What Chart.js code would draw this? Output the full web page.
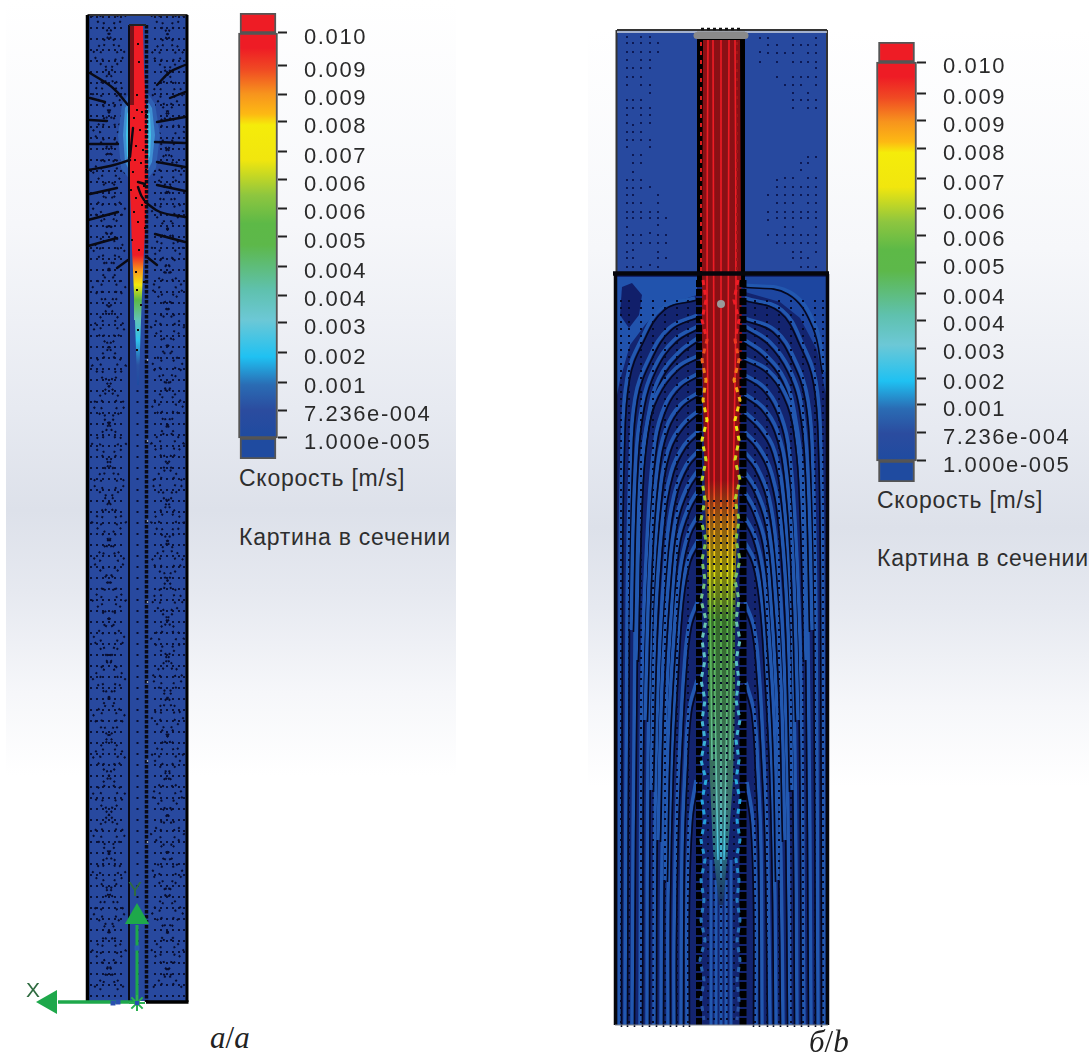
<!DOCTYPE html>
<html>
<head>
<meta charset="utf-8">
<script src="https://cdn.jsdelivr.net/npm/chart.js@4/dist/chart.umd.min.js"></script>
<style>
  html, body { margin: 0; padding: 0; background: #fff; }
  body { width: 1089px; height: 1057px; position: relative; overflow: hidden; font-family: "Liberation Sans", sans-serif; }
  canvas, .bg, .txt { position: absolute; }
  .bg { background: linear-gradient(#fff 0%, #f6f7fa 22%, #e7eaf1 40%, #dde1ea 50%, #e6e9f0 58%, #f6f7fa 68%, #fff 76%, #fff 100%); }
  .txt { white-space: nowrap; color: #2e2e2e; line-height: 1; }
  .legend { font-size: 23px; letter-spacing: 0.75px; }
  .cap { font-family: "Liberation Serif", serif; font-style: italic; font-size: 31px; color: #222; }
  .ax { color: #2f6b40; font-size: 21px; }
</style>
</head>
<body>
<div class="bg" style="left:6px;top:0;width:450px;height:1020px"></div>
<div class="bg" style="left:588px;top:30px;width:501px;height:995px"></div>

<canvas id="fieldA" width="180" height="1020" style="left:20px;top:0"></canvas>
<canvas id="fieldB" width="225" height="1010" style="left:610px;top:20px"></canvas>
<canvas id="barA" width="240" height="446" style="left:238px;top:13px"></canvas>
<canvas id="barB" width="212" height="440" style="left:876px;top:42px"></canvas>

<div class="txt legend" style="left:239px;top:467px">Скорость [m/s]</div>
<div class="txt legend" style="left:239px;top:526px">Картина в сечении</div>
<div class="txt legend" style="left:877px;top:489px">Скорость [m/s]</div>
<div class="txt legend" style="left:877px;top:547px">Картина в сечении</div>
<div class="txt ax" style="left:26px;top:979px">X</div>
<div class="txt ax" style="left:128px;top:878px">Y</div>
<div class="txt cap" style="left:210px;top:1022px">a<span style="font-style:normal">/</span>a</div>
<div class="txt cap" style="left:809px;top:1026px">б<span style="font-style:normal">/</span>b</div>

<script>
// colour bar: tick labels and the speeds they sit at
const barLabels = ['0.010','0.009','0.009','0.008','0.007','0.006','0.006','0.005','0.004','0.004','0.003','0.002','0.001','7.236e-004','1.000e-005'];
const barTicksA = [0.01,0.009186,0.008495,0.007805,0.007065,0.006374,0.005683,0.004968,0.004228,0.003537,0.002847,0.002107,0.001391,0.0007,0.00001];
const barTicksB = [0.01,0.009224,0.008523,0.007822,0.007071,0.006344,0.005668,0.004969,0.004216,0.00354,0.002839,0.002088,0.001412,0.000711,0.00001];
const stopSpeeds = [0.01,0.00963,0.0091,0.0085,0.008,0.00773,0.00687,0.006,0.0053,0.00477,0.00366,0.00292,0.00201,0.00132,0.0007,0.00001];
const stopColors = ['#ee1c25','#ee1c25','#f04a23','#f7941d','#fdb913','#f5ec0a','#f1e60e','#8ec63f','#5db947','#5db84a','#5fc1ae','#6cc8d6','#1fc1f2','#2a6cb4','#2b4c9f','#1f4ba0'];

const jetA = [134,26,143,26,144,70,146,105,148,150,148,190,146,215,144,250,143,270,142,295,141,320,140,350,139,385,137,385,136,350,135,320,134,295,133,270,132,250,131,215,130,190,130,150,130,105,131,70];
const jetAY = [26,255,270,285,300,320,340,365,385];
const jetASpeed = [0.01,0.01,0.0085,0.0073,0.0053,0.0035,0.0022,0.0008,0.00001];
const glowLeftA = [130,92,122,104,118,135,121,168,130,180];
const glowRightA = [147,92,155,104,160,135,156,168,147,180];
const haloLeftA = [130,100,125,108,123,135,125,162,130,172];
const haloRightA = [147,100,152,108,155,135,152,162,147,172];
const coreLeftA = [130,108,127,114,126,135,127,156,130,162];
const coreRightA = [147,108,150,114,151,135,150,156,147,162];
const streamsA = [
  [90,73,113,88,128,105],[90,98,105,102],[90,120,107,121],[90,144,118,144],[88,170,110,166,130,160],
  [90,194,117,188],[88,220,118,212],[88,246,117,238],[117,268,128,260],
  [185,65,170,72,157,85],[185,92,170,98],[185,117,157,122],[185,143,155,142],[185,167,157,162],
  [185,191,157,185],[185,217,160,212,145,202],[185,242,155,234],[157,265,147,257],
  [133,128,130,157],[138,187,141,195,144,200],[138,182,145,184]
];
const latticeYA = [15,54,93,132,171,210,249,288,327,366,405,444,483,522,561,600,639,678,717,756,795,834,873,912,951,990];
const latLeft1 = [92,126,92,126,92,126,92,126,92,126,92,126,92,126,92,126,92,126,92,126,92,126,92,126,92,126];
const latLeft2 = [126,92,126,92,126,92,126,92,126,92,126,92,126,92,126,92,126,92,126,92,126,92,126,92,126,92];
const latLeft3 = [100,118,100,118,100,118,100,118,100,118,100,118,100,118,100,118,100,118,100,118,100,118,100,118,100,118];
const latLeft4 = [118,100,118,100,118,100,118,100,118,100,118,100,118,100,118,100,118,100,118,100,118,100,118,100,118,100];
const latRight1 = [151,184,151,184,151,184,151,184,151,184,151,184,151,184,151,184,151,184,151,184,151,184,151,184,151,184];
const latRight2 = [184,151,184,151,184,151,184,151,184,151,184,151,184,151,184,151,184,151,184,151,184,151,184,151,184,151];
const latRight3 = [159,176,159,176,159,176,159,176,159,176,159,176,159,176,159,176,159,176,159,176,159,176,159,176,159,176];
const latRight4 = [176,159,176,159,176,159,176,159,176,159,176,159,176,159,176,159,176,159,176,159,176,159,176,159,176,159];
const sideColsA = [91,97,103,109,115,121,155,161,167,173,179,184];
const channelDotsAY = [390,405,422,438,455,470,488,503,520,536,553,570,586,603,620,636,652,668,685,702,718,735,752,768,785,802,818,835,852,868,885,902,918,935,952,968,985];
const jetDotsA = [138,44,139,62,137,95,137,110,142,112,134,118,146,115,140,130,136,146,143,150,135,160,141,163,146,170,133,172,138,182,144,186,131,190,136,198,142,205,134,212,138,222,145,228,132,240,139,250,146,256,136,272,144,282,137,290,141,305,138,330,137,350];
const whiteDotsAY = [360,441,521,602,682,761,842,923,1002];
const axisXArrow = [137,1002,58,1002];
const axisYArrow = [137,1002,137,925];

// panel b
const upperColsLeftX = [627,633,641,650,658,666];
const upperColsLeftY = [
  [37,43,52,60,68,77,85,100,108,115,123,132,140,147,180,188,195,203,212,218,227,235,243,252,258,267],
  [43,52,68,77,100,108,125,132,140,155,163,172,180,188,195,203,212,218,235,243,250,258,267],
  [37,43,52,60,68,77,85,100,108,115,123,132,140,155,163,180,188,203,212,218,235,243,267],
  [37,43,52,60,68,85,93,108,115,123,140,147,187,212,218,233,243,265],
  [43,52,195,203,212,218,225,235,243,252,258,267],
  [218,235,243,258]
];
const upperColsRightX = [760,768,777,785,793,801,808,816];
const upperColsRightY = [
  [38,52,62],
  [38,45,53,195,212,220,235],
  [45,53,62,77,180,187,195,203,212,218,235,243],
  [53,85,178,187,195,203,212,218,227,235,243],
  [38,45,53,62,77,85,93,100,108,178,187,195,203,212,218,227,235,243,252,258],
  [45,62,77,85,100,163,170,187,195,212,218,235,243,252,258,267],
  [45,53,62,77,93,100,108,157,163,178,187,195,203,212,218,235,243,258,267],
  [38,45,53,62,68,77,85,100,108,157,178,187,195,203,212,218,227,235,243,252,267]
];
const shearBlueB = [616,277,697,277,697,295,662,306,645,325,630,345,620,380,616,400];
const shearRightB = [745,277,827,277,827,400,817,350,800,318,780,302,745,292];
const vortexB = [622,287,632,283,642,295,639,315,629,328,620,315];
const streamsLeftB = [
  [695,298,662,308,640,342,627,378,622,450,620,600,619,1025],
  [697,315,669,328,649,358,635,398,630,470,627,620,625,1025],
  [699,337,679,352,659,378,649,412,640,480,635,640,632,1025],
  [699,373,679,385,665,405,655,440,648,520,642,680,640,1025],
  [699,410,682,425,668,450,659,500,652,600,648,760,647,1025],
  [699,450,686,465,674,495,666,550,659,660,655,820,654,1025],
  [698,490,688,508,678,540,672,600,666,710,662,860,661,1025],
  [698,540,688,560,681,600,676,670,671,770,668,900,668,1025],
  [698,600,689,625,684,670,680,740,676,830,674,940,674,1025],
  [697,680,689,710,685,770,682,850,681,1025],
  [696,780,690,820,687,900,687,1025]
];
const streamsRightB = [
  [745,298,782,310,803,345,816,382,821,450,823,600,824,1025],
  [745,318,775,330,795,360,808,400,813,470,816,620,818,1025],
  [745,340,765,354,785,380,795,415,803,480,808,640,811,1025],
  [745,375,764,387,778,408,788,442,795,520,801,680,804,1025],
  [745,412,761,427,775,452,784,502,791,600,795,760,797,1025],
  [745,452,757,467,769,497,777,552,784,660,788,820,790,1025],
  [745,492,755,510,765,542,771,602,777,710,781,860,783,1025],
  [745,542,755,562,762,602,767,672,772,770,775,900,776,1025],
  [745,602,754,627,759,672,763,742,767,830,769,940,770,1025],
  [746,682,754,712,758,772,761,850,762,1025],
  [747,782,753,822,756,900,756,1025]
];
const upperStreamsB = [
  [698,326,674,340,654,368,642,405,635,475,631,630],
  [699,355,676,368,656,395,646,430,640,500,636,660],
  [699,392,680,405,666,428,657,470,650,560,645,720],
  [699,430,684,445,671,472,662,525,655,630,651,790],
  [698,470,687,487,676,518,669,575,662,685,658,840],
  [698,515,688,534,680,570,674,635,668,740,665,880],
  [745,326,770,342,790,370,802,408,808,475,812,630],
  [745,358,768,370,786,395,796,430,802,500,806,660],
  [745,394,763,407,777,430,786,470,793,560,798,720],
  [745,432,759,447,772,474,781,525,788,630,792,790],
  [745,472,756,489,767,520,774,575,781,685,785,840],
  [745,517,755,536,763,570,769,635,775,740,778,880],
  [745,285,790,292,815,325,825,372]
];
const coreLinesB = [[711,860,711,1025],[716,880,716,1025],[721,900,721,1025],[726,880,726,1025],[731,860,731,1025]];
const dashedColsB = [621,629,641,653,665,677,688,708,714,721,727,734,755,767,779,791,803,815,823];
const jetB = [703,40,740,40,741,273,742,340,741,400,738,500,736,560,735,640,735,700,733,780,728,850,723,905,719,905,713,850,710,780,708,700,708,640,707,560,705,500,703,400,702,340,702,273];
const jetBY = [40,480,520,570,620,700,800,850,905];
const jetBSpeed = [0.01,0.01,0.0085,0.0068,0.0052,0.0043,0.0034,0.0025,0.0008];
const jetLinesB = [
  [721,40,721,500,721,880],
  [713,40,714,400,715,700,718,860],
  [708,40,707,300,709,500,712,760],
  [729,40,728,400,727,700,724,860],
  [735,40,736,300,733,500,730,760]
];
const wallY = [40,330,420,540,640,800,1025];
const wallSpeed = [0.01,0.01,0.0075,0.0058,0.0033,0.0018,0.0005];
const spikeY = [280,300,320,340,360,380,400,420,440,460,480,500,520,540,560,580,600,620,640,660,680,700,720,740,760,780,800,820,840,860,880,900,920,940,960,980,1000,1020];
const spikeLeftX = [703,706,702,707,702,706,703,707,702,706,702,705,701,706,702,705,701,706,702,705,701,705,702,705,701,706,702,705,701,705,701,704,701,705,700,704,701,704];
const spikeRightX = [738,734,739,735,739,734,740,735,739,735,740,735,739,736,740,735,739,736,740,736,739,736,740,736,739,736,740,737,740,736,739,737,740,737,740,737,739,737];

const xy = a => { const r = []; for (let i = 0; i < a.length; i += 2) r.push({x: a[i], y: a[i + 1]}); return r; };
const colY = (x, ys) => ys.map(y => ({x, y}));
const zip = (xs, ys) => xs.map((x, i) => ({x, y: ys[i]}));
const hex = c => [1, 3, 5].map(i => parseInt(c.substr(i, 2), 16));

// speed -> colour through the colour bar stops
function speedColor(v, shade = 1) {
  let i = stopSpeeds.findIndex(s => s <= v);
  if (i <= 0) i = v >= stopSpeeds[0] ? 1 : stopSpeeds.length - 1;
  const t = (stopSpeeds[i - 1] - v) / (stopSpeeds[i - 1] - stopSpeeds[i]);
  const a = hex(stopColors[i - 1]), b = hex(stopColors[i]);
  const c = a.map((p, k) => Math.round((p + (b[k] - p) * Math.min(1, Math.max(0, t))) * shade));
  return `rgb(${c[0]},${c[1]},${c[2]})`;
}
function speedGradient(chart, ys, speeds, shade) {
  const s = chart.scales.y;
  const top = s ? s.getPixelForValue(ys[0]) : NaN, bot = s ? s.getPixelForValue(ys[ys.length - 1]) : NaN;
  // options get resolved once before the layout has run
  if (!isFinite(top) || !isFinite(bot)) return speedColor(speeds[0], shade);
  const g = chart.ctx.createLinearGradient(0, top, 0, bot);
  ys.forEach((y, i) => g.addColorStop((s.getPixelForValue(y) - top) / (bot - top), speedColor(speeds[i], shade)));
  return g;
}
function barGradient(chart) {
  const s = chart.scales.y;
  const top = s ? s.getPixelForValue(0.01) : NaN, bot = s ? s.getPixelForValue(0.00001) : NaN;
  if (!isFinite(top) || !isFinite(bot)) return stopColors[0];
  const g = chart.ctx.createLinearGradient(0, top, 0, bot);
  stopSpeeds.forEach((v, i) => g.addColorStop((0.01 - v) / (0.01 - 0.00001), stopColors[i]));
  return g;
}

const line = (data, color, width, extra) => Object.assign({data, showLine: true, pointRadius: 0, borderColor: color, borderWidth: width, fill: false}, extra);
const poly = (data, color) => ({data, showLine: true, pointRadius: 0, borderWidth: 0, borderColor: 'rgba(0,0,0,0)', backgroundColor: color, fill: 'shape'});
const dots = (data, color, r) => ({data, pointStyle: 'rect', pointRadius: r, pointBackgroundColor: color, pointBorderWidth: 0, showLine: false});
const lattice = (xs, ys, color = '#080d2e') => line(zip(xs, ys), color, 2, {borderDash: [2, 6]});

function fieldChart(id, xmin, xmax, ymin, ymax, sets) {
  sets.forEach((d, i) => { d.order = sets.length - i; });
  return new Chart(document.getElementById(id), {
    type: 'scatter',
    data: {datasets: sets},
    options: {
      responsive: false, animation: false, events: [],
      layout: {padding: 0, autoPadding: false},
      plugins: {legend: {display: false}, tooltip: {enabled: false}},
      scales: {
        x: {display: false, type: 'linear', min: xmin, max: xmax},
        y: {display: false, type: 'linear', min: ymin, max: ymax, reverse: true}
      }
    }
  });
}

function colorBar(id, ticks, vmin, vmax, mainW, blockW, axisW) {
  return new Chart(document.getElementById(id), {
    type: 'bar',
    data: {
      labels: ['v'],
      datasets: [
        {data: [[0.00001, 0.01]], order: 1, grouped: false, barThickness: mainW, borderWidth: 2, borderColor: '#555', borderSkipped: false,
         backgroundColor: c => barGradient(c.chart)},
        {data: [[0.01, vmax]], order: 2, grouped: false, barThickness: blockW, borderWidth: 2, borderColor: '#555', borderSkipped: false, backgroundColor: '#ee1c25'},
        {data: [[vmin, 0.00001]], order: 2, grouped: false, barThickness: blockW, borderWidth: 2, borderColor: '#555', borderSkipped: false, backgroundColor: '#1f4ba0'}
      ]
    },
    options: {
      responsive: false, animation: false, events: [],
      layout: {padding: 0, autoPadding: false},
      plugins: {legend: {display: false}, tooltip: {enabled: false}},
      scales: {
        x: {display: false},
        y: {
          position: 'right', min: vmin, max: vmax,
          afterFit: s => { s.width = axisW; s.paddingTop = 0; s.paddingBottom = 0; },
          afterBuildTicks: s => { s.ticks = ticks.map(value => ({value})); },
          border: {display: false},
          grid: {drawOnChartArea: false, tickLength: 9, tickColor: '#222', tickWidth: 2},
          ticks: {
            autoSkip: false, padding: 17, labelOffset: 5, color: '#2a2a2a',
            font: {family: '"Liberation Sans"', size: 22},
            callback: (v, i) => barLabels[i]
          }
        }
      }
    },
    plugins: [{id: 'spacing', beforeDraw: c => { c.ctx.letterSpacing = '1.6px'; }}]
  });
}

const blueA = '#28499f';
const panelA = [
  poly(xy([88,16,187,16,187,1001,88,1001]), blueA),
  lattice(latLeft1, latticeYA), lattice(latLeft2, latticeYA), lattice(latLeft3, latticeYA), lattice(latLeft4, latticeYA),
  lattice(latRight1, latticeYA), lattice(latRight2, latticeYA), lattice(latRight3, latticeYA), lattice(latRight4, latticeYA)
];
sideColsA.forEach(x => panelA.push(line(colY(x, [16, 1001]), '#080d2e', 1.8, {borderDash: [2, 9]})));
panelA.push(
  poly(xy(glowLeftA), '#2f5fb2'), poly(xy(glowRightA), '#2f5fb2'),
  poly(xy(haloLeftA), '#3f8fd2'), poly(xy(haloRightA), '#3f8fd2'),
  poly(xy(coreLeftA), '#45c3e6'), poly(xy(coreRightA), '#45c3e6'),
  poly(xy(jetA), c => speedGradient(c.chart, jetAY, jetASpeed)),
  poly(xy([130,26,134,26,134,105,130,105]), '#7a1218')
);
streamsA.forEach(s => panelA.push(line(xy(s), '#0a0a14', 2.4, {tension: 0.4, borderCapStyle: 'round'})));
panelA.push(
  dots(xy(jetDotsA), '#150808', 1.4),
  line(colY(137.5, channelDotsAY), '#080d2e', 2, {borderDash: [2, 9]}),
  line(colY(129, [25, 1002]), '#0a0a14', 2),
  line(colY(146.5, [25, 1002]), '#0a0a14', 3.5, {borderDash: [3.5, 1.5]}),
  line(xy([129,25,146,25]), '#222', 2),
  dots(colY(147.5, whiteDotsAY), '#d9dde6', 1),
  line(xy([87.5,15,187.5,15]), '#333', 2),
  line(xy([87.5,15,87.5,1002]), '#000', 3.5),
  line(xy([187,15,187,1002]), '#000', 3),
  line(xy([146,1002,188.5,1002]), '#000', 3.5),
  line(xy(axisXArrow), '#1ea84b', 3.5),
  line(xy(axisYArrow), '#1ea84b', 3),
  dots(xy([137,948]), '#2a5db0', 3.5),
  dots(xy([113,1003,118,1002]), '#2a4fb0', 3.5),
  {data: xy([50,1002]), pointStyle: 'triangle', rotation: -90, pointRadius: 14, pointBackgroundColor: '#1ea84b', pointBorderWidth: 0},
  {data: xy([137,917]), pointStyle: 'triangle', rotation: 0, pointRadius: 14, pointBackgroundColor: '#1ea84b', pointBorderWidth: 0},
  {data: xy([137,1003]), pointStyle: 'star', pointRadius: 8, pointBorderColor: '#2bb04f', pointBorderWidth: 2},
  dots(xy([137,1003]), '#2a4fb0', 3)
);

const panelB = [
  poly(xy([617,30,827,30,827,274,617,274]), '#27499f')
];
upperColsLeftX.forEach((x, i) => panelB.push(dots(colY(x, upperColsLeftY[i]), '#0e1a55', 1.4)));
upperColsRightX.forEach((x, i) => panelB.push(dots(colY(x, upperColsRightY[i]), '#0e1a55', 1.4)));
panelB.push(poly(xy([615,274,829,274,829,1025,615,1025]), '#13246f'), poly(xy(shearBlueB), '#2153ad'), poly(xy(shearRightB), '#1d46a0'), poly(xy(vortexB), '#111f6a'));
streamsLeftB.concat(streamsRightB, upperStreamsB).forEach(s => {
  const pts = xy(s);
  panelB.push(line(pts, '#2258b0', 3.5, {tension: 0.4}));
  panelB.push(line(pts.map(p => ({x: p.x + (p.x < 721 ? 2.5 : -2.5), y: p.y + 2})), '#05081f', 1.6, {tension: 0.4}));
});
coreLinesB.forEach(s => panelB.push(line(xy(s), '#2258b0', 3)));
panelB.push(
  poly(xy([697,30,745,30,745,280,697,280]), '#000'),
  poly(xy(jetB), c => speedGradient(c.chart, jetBY, jetBSpeed, 0.58))
);
jetLinesB.forEach(s => panelB.push(line(xy(s), c => speedGradient(c.chart, jetBY, jetBSpeed), 1.6, {tension: 0.3})));
dashedColsB.forEach(x => panelB.push(line(colY(x, x > 700 && x < 740 ? [500, 1025] : [300, 1025]), '#050a2a', 2, {borderDash: [2, 5]})));
panelB.push(
  line(colY(699, [280, 1025]), '#000', 6, {borderDash: [7, 2]}),
  line(colY(743, [280, 1025]), '#000', 7, {borderDash: [7, 2]}),
  line(colY(701, [42, 273]), '#d81e1e', 2, {borderDash: [4, 5]}),
  line(colY(737, [42, 273]), '#a01616', 2, {borderDash: [3, 6]}),
  line(zip(spikeLeftX, spikeY), c => speedGradient(c.chart, wallY, wallSpeed), 3, {borderDash: [5, 5]}),
  line(zip(spikeRightX, spikeY), c => speedGradient(c.chart, wallY, wallSpeed), 3, {borderDash: [5, 5]}),
  line(xy([616.5,30,616.5,274]), '#333', 2),
  line(xy([827,30,827,274]), '#333', 2),
  line(xy([617,30,827,30]), '#333', 2),
  line(xy([617,32,827,32]), '#cfd4de', 1.5),
  line(xy([613,273.5,829,273.5]), '#06060c', 4.5),
  line(xy([615.5,274,615.5,1025]), '#06060c', 3.5),
  line(xy([827.5,274,827.5,1025]), '#06060c', 3.5),
  line(xy([615,1025,828,1025]), '#7e8490', 1),
  line(xy([697,35.5,745,35.5]), '#8a8a8a', 7, {borderCapStyle: 'round'}),
  line(xy([701,29,741,29]), '#111', 2.5, {borderDash: [3, 3]}),
  {data: xy([721,304]), pointRadius: 4, pointBackgroundColor: '#9a9a9a', pointBorderWidth: 0}
);

fieldChart('fieldA', 20, 200, 0, 1020, panelA);
fieldChart('fieldB', 610, 835, 20, 1030, panelB);

colorBar('barA', barTicksA, -0.000508, 0.010493, 39, 36, 200);
colorBar('barB', barTicksB, -0.000516, 0.010501, 40, 36, 171);
</script>
</body>
</html>
